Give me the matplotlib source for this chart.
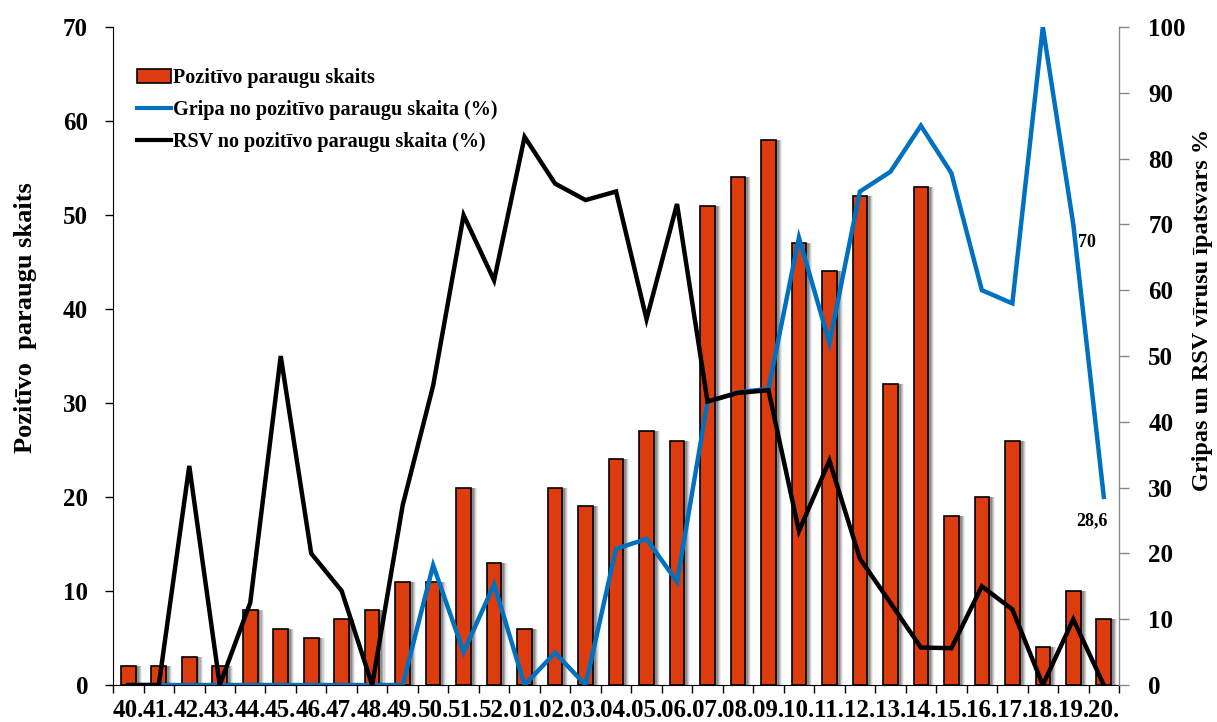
import numpy as np
import matplotlib.pyplot as plt
from matplotlib.patches import Patch
from matplotlib.lines import Line2D

plt.rcParams['font.family'] = ['Liberation Serif', 'DejaVu Serif']
plt.rcParams['font.weight'] = 'bold'

# nedēļas
weeks = ['40.', '41.', '42.', '43.', '44.', '45.', '46.', '47.', '48.', '49.', '50.',
         '51.', '52.', '01.', '02.', '03.', '04.', '05.', '06.', '07.', '08.', '09.',
         '10.', '11.', '12.', '13.', '14.', '15.', '16.', '17.', '18.', '19.', '20.']

# pozitīvo paraugu skaits
positive = [2, 2, 3, 2, 8, 6, 5, 7, 8, 11, 11, 21, 13, 6, 21, 19, 24, 27, 26,
            51, 54, 58, 47, 44, 52, 32, 53, 18, 20, 26, 4, 10, 7]

# gripa (%)
flu_pct = [0, 0, 0, 0, 0, 0, 0, 0, 0, 0, 18.2, 5, 15.3, 0, 4.9, 0, 20.7, 22.2, 15.7,
           43, 44.5, 45, 68, 52, 75, 78, 85, 77.8, 60, 58, 100, 70, 28.6]

# RSV (%)
rsv_pct = [0, 0, 33.3, 0, 12.5, 50, 20, 14.3, 0, 27.3, 45.5, 71.4, 61.5, 83.3, 76.2,
           73.7, 75, 55.6, 73.1, 43.1, 44.4, 44.8, 23.4, 34.1, 19.2, 12.5, 5.7, 5.6,
           15, 11.5, 0, 10, 0]

bar_color = '#DD3D0E'
flu_color = '#0070C0'

fig = plt.figure(figsize=(12.17, 7.22), dpi=100)
ax = fig.add_axes([0.0929, 0.0512, 0.8266, 0.9114])
ax2 = ax.twinx()

x = np.arange(len(weeks))
bw = 0.48

# ēna aiz stabiņiem
for k, a in enumerate([0.10, 0.18, 0.28, 0.38]):
    off = 0.20 - k * 0.035
    ax.bar(x + off, positive, width=bw, color='#555555', alpha=a, linewidth=0, zorder=1)
ax.bar(x, positive, width=bw, color=bar_color, edgecolor='black', linewidth=1.2, zorder=3)

ax.set_xlim(-0.5, len(weeks) - 0.5)
ax.set_ylim(0, 70)
ax.set_yticks(np.arange(0, 71, 10))
ax2.set_ylim(0, 100)
ax2.set_yticks(np.arange(0, 101, 10))

ax2.plot(x, flu_pct, color=flu_color, linewidth=3.2, zorder=4, solid_joinstyle='miter')
ax2.plot(x, rsv_pct, color='black', linewidth=3.2, zorder=5, solid_joinstyle='miter')

ax2.text(31.15, 67.3, '70', fontsize=13, fontweight='bold', ha='left', va='center')
ax2.text(31.6, 25.0, '28,6', fontsize=13, fontweight='bold', ha='center', va='center')

# x ass: iedaļas starp nedēļām, nosaukumi centrā
ax.set_xticks(np.arange(len(weeks) + 1) - 0.5)
ax.set_xticklabels([])
ax.set_xticks(x, minor=True)
ax.set_xticklabels(weeks, minor=True, fontsize=18, fontweight='bold')
ax.tick_params(axis='x', which='major', direction='out', length=6, width=1)
ax.tick_params(axis='x', which='minor', length=0, pad=10)
ax.tick_params(axis='y', direction='out', length=6, width=1, labelsize=18, pad=12)
ax2.tick_params(axis='y', direction='out', length=7, width=1, labelsize=18, pad=14, color='#888888')

ax.spines['top'].set_visible(False)
ax2.spines['top'].set_visible(False)
ax2.spines['right'].set_color('#888888')
ax2.spines['left'].set_visible(False)
ax2.spines['bottom'].set_visible(False)

fig.text(0.021, 0.56, 'Pozitīvo  paraugu skaits', fontsize=19, fontweight='bold',
         rotation=90, ha='center', va='center')
fig.text(0.988, 0.571, 'Gripas un RSV vīrusu īpatsvars %', fontsize=17.5, fontweight='bold',
         rotation=90, ha='center', va='center')

handles = [Patch(facecolor=bar_color, edgecolor='black', linewidth=1.2),
           Line2D([], [], color=flu_color, linewidth=3),
           Line2D([], [], color='black', linewidth=3)]
labels = ['Pozitīvo paraugu skaits',
          'Gripa no pozitīvo paraugu skaita (%)',
          'RSV no pozitīvo paraugu skaita (%)']
leg = ax2.legend(handles, labels, loc='upper left', bbox_to_anchor=(0.006, 0.965), frameon=False,
                 prop={'size': 14.5, 'weight': 'bold'}, handlelength=1.7, handletextpad=0.1,
                 labelspacing=0.6, handleheight=0.7)

plt.savefig('out.png', dpi=100)
